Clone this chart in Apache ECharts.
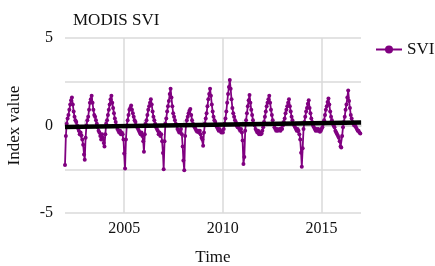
<!DOCTYPE html>
<html>
<head>
<meta charset="utf-8">
<script src="https://cdn.jsdelivr.net/npm/echarts@6/dist/echarts.min.js"></script>
<style>html,body{margin:0;padding:0;background:#fff;}#c{width:435px;height:266px;}</style>
</head>
<body>
<div id="c"></div>
<script>
// 16-day composite start days (day of year)
var compositeDays = [1,17,33,49,65,81,97,113,129,145,161,177,193,209,225,241,257,273,289,305,321,337,353];
var years = [2002,2003,2004,2005,2006,2007,2008,2009,2010,2011,2012,2013,2014,2015,2016];
var svi2002 = [-2.25,-0.6,0.1,0.4,0.6,0.9,1.2,1.45,1.6,1.2,0.8,0.5,0.3,0.2,0.0,-0.15,-0.3,-0.5,-0.4,-0.55,-0.8,-1.1,-1.65];
var svi2003 = [-1.95,-0.7,0.0,0.3,0.5,0.9,1.3,1.5,1.7,1.3,0.9,0.6,0.5,0.3,0.1,-0.1,-0.3,-0.4,-0.6,-0.8,-0.5,-0.7,-1.0];
var svi2004 = [-1.2,-0.5,0.1,0.3,0.6,0.9,1.2,1.5,1.7,1.3,1.0,0.7,0.4,0.2,0.0,-0.2,-0.3,-0.4,-0.3,-0.5,-0.4,-0.5,-0.8];
var svi2005 = [-1.6,-2.45,-0.8,0.0,0.3,0.6,0.9,1.0,1.15,0.9,0.7,0.5,0.3,0.2,0.0,-0.1,-0.2,-0.3,-0.4,-0.5,-0.4,-0.6,-0.9];
var svi2006 = [-1.5,-0.5,0.1,0.3,0.6,0.9,1.1,1.3,1.5,1.2,0.8,0.5,0.3,0.1,-0.1,-0.2,-0.3,-0.5,-0.4,-0.6,-0.5,-0.9,-1.57];
var svi2007 = [-2.5,-0.9,0.1,0.4,0.8,1.1,1.4,1.8,2.1,1.6,1.1,0.7,0.5,0.3,0.1,0.0,-0.2,-0.3,-0.4,-0.3,-0.2,-0.5,-1.2];
var svi2008 = [-2.0,-2.55,-0.6,0.0,0.3,0.5,0.7,0.85,0.95,0.6,0.3,0.1,0.0,-0.1,-0.2,-0.3,-0.35,-0.3,-0.4,-0.3,-0.5,-0.7,-0.8];
var svi2009 = [-1.15,-0.4,0.1,0.4,0.7,1.1,1.5,1.8,2.1,1.7,1.2,0.8,0.5,0.3,0.2,0.0,-0.1,-0.2,-0.3,-0.2,-0.3,-0.4,-0.35];
var svi2010 = [-0.4,-0.2,0.1,0.4,0.8,1.3,1.8,2.2,2.6,2.1,1.5,1.0,0.7,0.5,0.3,0.2,0.0,-0.1,-0.1,-0.2,-0.3,-0.2,-0.4];
var svi2011 = [-0.85,-2.2,-1.8,-0.3,0.3,0.7,1.1,1.45,1.75,1.3,0.9,0.6,0.3,0.1,0.0,-0.2,-0.3,-0.4,-0.3,-0.5,-0.4,-0.5,-0.45];
var svi2012 = [-0.3,-0.1,0.2,0.5,0.8,1.1,1.3,1.5,1.7,1.3,0.9,0.6,0.3,0.1,-0.1,-0.2,-0.3,-0.2,-0.3,-0.25,-0.2,-0.3,-0.15];
var svi2013 = [-0.2,0.0,0.2,0.4,0.7,0.9,1.1,1.3,1.5,1.1,0.8,0.5,0.3,0.1,0.0,-0.1,-0.2,-0.3,-0.2,-0.3,-0.5,-0.8,-1.55];
var svi2014 = [-2.35,-1.3,-0.2,0.2,0.5,0.8,1.0,1.25,1.45,1.0,0.7,0.4,0.2,0.0,-0.1,-0.2,-0.3,-0.2,-0.3,-0.2,-0.3,-0.35,-0.3];
var svi2015 = [-0.2,-0.1,0.1,0.3,0.6,0.9,1.1,1.35,1.55,1.2,0.8,0.5,0.3,0.1,0.0,-0.1,-0.3,-0.4,-0.5,-0.6,-0.7,-0.9,-1.2];
var svi2016 = [-1.25,-0.6,-0.1,0.2,0.5,0.9,1.2,1.6,2.0,1.4,1.0,0.6,0.4,0.2,0.1,0.0,0.0,-0.1,-0.2,-0.3,-0.3,-0.4,-0.45];
var sviByYear = [svi2002,svi2003,svi2004,svi2005,svi2006,svi2007,svi2008,svi2009,svi2010,svi2011,svi2012,svi2013,svi2014,svi2015,svi2016];
var trendX = [2002, 2017];
var trendY = [-0.08, 0.17];
var xTickLabels = [2005, 2010, 2015];
var yTickLabels = [-5, 0, 5];

var sviData = [];
years.forEach(function (y, i) {
  sviByYear[i].forEach(function (v, j) {
    sviData.push([y + (compositeDays[j] - 1) / 365, v]);
  });
});
var trendData = trendX.map(function (x, i) { return [x, trendY[i]]; });

var serif = 'Liberation Serif';
var chart = echarts.init(document.getElementById('c'), null, {renderer: 'canvas'});
chart.setOption({
  animation: false,
  backgroundColor: '#fff',
  title: {
    text: 'MODIS SVI', left: 68, top: 7,
    textStyle: {fontFamily: serif, fontSize: 17, fontWeight: 'normal', color: '#111'}
  },
  legend: {
    data: [{name: 'SVI'}],
    left: 370, top: 36, itemWidth: 26, itemHeight: 10, itemGap: 6,
    textStyle: {fontFamily: serif, fontSize: 17, color: '#111'}
  },
  grid: {left: 65, right: 74, top: 38, bottom: 53, outerBoundsMode: 'none', containLabel: false},
  xAxis: {
    type: 'value', min: 2002, max: 2017, interval: 1,
    name: 'Time', nameLocation: 'middle', nameGap: 36,
    nameTextStyle: {fontFamily: serif, fontSize: 17, color: '#111'},
    axisLine: {show: true, lineStyle: {color: '#d6d6d6', width: 1.5}},
    axisTick: {show: true, inside: true, length: 5, lineStyle: {color: '#d6d6d6', width: 1.5}},
    axisLabel: {
      fontFamily: serif, fontSize: 16, color: '#111', margin: 8,
      formatter: function (v) { return xTickLabels.indexOf(Math.round(v)) >= 0 && Math.abs(v - Math.round(v)) < 1e-6 ? String(Math.round(v)) : ''; }
    },
    splitLine: {show: true, lineStyle: {color: ['rgba(0,0,0,0)','rgba(0,0,0,0)','rgba(0,0,0,0)','#dadada','rgba(0,0,0,0)'], width: 1.5}}
  },
  yAxis: {
    type: 'value', min: -5, max: 5, interval: 2.5,
    name: 'Index value', nameLocation: 'middle', nameGap: 42, nameRotate: 90,
    nameTextStyle: {fontFamily: serif, fontSize: 17, color: '#111'},
    axisLine: {show: false}, axisTick: {show: false},
    axisLabel: {
      fontFamily: serif, fontSize: 16, color: '#111', margin: 12,
      formatter: function (v) { return yTickLabels.indexOf(v) >= 0 ? String(v) : ''; }
    },
    splitLine: {show: true, lineStyle: {color: '#dadada', width: 1.5}}
  },
  series: [
    {
      name: 'SVI', type: 'line', data: sviData,
      symbol: 'circle', symbolSize: 4, showSymbol: true,
      lineStyle: {color: '#800080', width: 1.8},
      itemStyle: {color: '#800080'},
      z: 2
    },
    {
      name: 'trend', type: 'line', data: trendData,
      symbol: 'none', lineStyle: {color: '#000', width: 4.5}, z: 3, silent: true
    }
  ]
});
</script>
</body>
</html>
